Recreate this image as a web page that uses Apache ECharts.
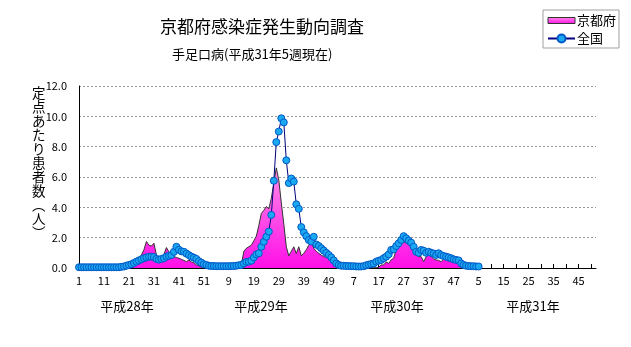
<!DOCTYPE html>
<html><head><meta charset="utf-8">
<script src="https://cdn.jsdelivr.net/npm/echarts@6/dist/echarts.min.js"></script>
<style>html,body{margin:0;padding:0;background:#fff}#c{width:631px;height:347px}</style>
</head><body><div id="c"></div>
<script>
const FONT = '"Noto Sans CJK JP", "Noto Sans", sans-serif';
const titleText = '京都府感染症発生動向調査';
const subtitleText = '手足口病(平成31年5週現在)';
const yAxisName = ['定','点','あ','た','り','患','者','数','︵','人','︶'];
const yearLabels = ['平成28年','平成29年','平成30年','平成31年'];
const weeksPerYear = 52;
const yTicks = [0, 2, 4, 6, 8, 10, 12];

const kyoto2016 = [0,0,0,0,0,0,0,0,0,0,0,0,0,0,0,0,0,0,0,
  0.05,0.1,0.15,0.25,0.4,0.53,0.86,1.2,1.75,1.5,1.45,1.63,0.86,0.55,0.75,0.9,1.35,1.07,0.8,0.75,0.7,0.64,0.57,0.5,0.42,0.53,0.4,0.35,0.2,0.15,0.05,0.05,0.02];
const kyoto2017 = [0.02,0.02,0.02,0.02,0.02,0.02,0.02,0.02,0.02,0.03,0.05,0.05,
  0.05,0.2,1.1,1.3,1.4,1.5,1.8,2.1,2.8,3.6,3.8,4.05,3.9,4.6,5.6,6.6,5.8,4.3,2.9,1.4,0.8,1.1,1.4,0.95,1.4,0.8,0.97,1.2,1.5,1.73,1.3,1.1,0.97,0.85,0.75,0.7,0.64,0.5,0.42,0.3];
const kyoto2018 = [0.2,0.1,0.05,0.02,0.02,0.02,0.02,0.02,0.02,0.02,0.02,0.02,0.02,0.02,0.02,0.02,
  0.05,0.2,0.2,0.4,0.3,0.55,0.65,1.2,1.5,1.63,1.73,1.65,1.55,1.4,1.1,0.86,0.75,0.75,0.42,0.75,0.86,0.75,0.6,0.53,0.5,0.42,0.57,0.53,0.45,0.42,0.42,0.35,0.3,0.2,0.05,0.1];
const kyoto2019 = [0.1,0.1,0.05,0.05,0.05];

const national2016 = [0.05,0.05,0.05,0.05,0.05,0.05,0.05,0.05,0.05,0.05,0.05,0.05,0.05,0.05,0.05,0.05,0.05,
  0.08,0.1,0.15,0.2,0.25,0.33,0.42,0.5,0.58,0.65,0.7,0.75,0.75,0.72,0.6,0.55,0.6,0.65,0.75,0.8,0.85,1.07,1.4,1.2,1.1,1.07,0.95,0.85,0.75,0.68,0.6,0.45,0.35,0.25,0.2];
const national2017 = [0.15,0.13,0.13,0.12,0.12,0.12,0.12,0.12,0.12,0.13,0.13,0.15,0.18,
  0.2,0.3,0.4,0.42,0.48,0.7,0.9,0.97,1.4,1.73,2.06,2.4,3.5,5.75,8.3,9.0,9.87,9.6,7.1,5.6,5.9,5.7,4.2,3.9,2.7,2.35,2.1,1.85,1.75,2.06,1.55,1.45,1.3,1.15,1.0,0.86,0.7,0.5,0.3];
const national2018 = [0.2,0.15,0.15,0.13,0.13,0.12,0.12,0.1,0.1,0.1,0.12,0.18,0.22,0.26,0.3,0.42,0.48,0.53,0.65,0.75,0.9,1.19,1.23,1.45,1.63,1.85,2.1,1.96,1.8,1.67,1.4,1.07,1.0,1.19,1.14,1.0,1.07,1.0,0.95,0.86,0.97,0.85,0.79,0.75,0.7,0.64,0.57,0.53,0.5,0.3,0.2,0.15];
const national2019 = [0.13,0.12,0.12,0.1,0.1];

const categories = [];
for (let y = 0; y < yearLabels.length; y++) {
  for (let w = 1; w <= weeksPerYear; w++) categories.push(String(w));
}
function pad(arr) {
  const out = arr.slice();
  while (out.length < categories.length) out.push(null);
  return out;
}
const kyoto = pad([].concat(kyoto2016, kyoto2017, kyoto2018, kyoto2019));
const national = pad([].concat(national2016, national2017, national2018, national2019));

const pinkFill = new echarts.graphic.LinearGradient(0, 0, 0, 1, [
  { offset: 0, color: '#ff8ce6' },
  { offset: 1, color: '#ff10e8' }
]);

const chart = echarts.init(document.getElementById('c'), null, { renderer: 'canvas' });
const yearCenters = [127, 261, 397, 533];
chart.setOption({
  animation: false,
  backgroundColor: '#fff',
  title: [
    { text: titleText, left: 155, top: 13, textStyle: { fontFamily: FONT, fontSize: 17, fontWeight: 'normal', color: '#000' } },
    { text: subtitleText, left: 167, top: 43, textStyle: { fontFamily: FONT, fontSize: 13, fontWeight: 'normal', color: '#000' } }
  ],
  legend: {
    orient: 'vertical', left: 543, top: 10,
    padding: [4, 3, 3, 4], itemGap: 5, itemWidth: 27, itemHeight: 10,
    borderColor: '#a0a0a0', borderWidth: 1,
    textStyle: { fontFamily: FONT, fontSize: 13, color: '#000', padding: [0, 0, 0, -3] },
    data: [
      { name: '京都府', icon: 'path://M0,0H27V6H0Z', itemStyle: { color: pinkFill, borderColor: '#333', borderWidth: 1 } },
      { name: '全国' }
    ]
  },
  grid: { left: 79, right: 35, top: 86, bottom: 79 },
  xAxis: {
    type: 'category', data: categories, boundaryGap: false,
    axisLine: { lineStyle: { color: '#000', width: 1 } },
    axisTick: { interval: 4, inside: true, length: 4, lineStyle: { color: '#000' } },
    axisLabel: { interval: 9, fontSize: 11, color: '#000', margin: 7, fontFamily: FONT },
    splitLine: { show: false }
  },
  yAxis: {
    type: 'value', min: yTicks[0], max: yTicks[yTicks.length - 1], interval: 2,
    axisLine: { show: true, lineStyle: { color: '#000' } },
    axisTick: { show: false },
    axisLabel: { formatter: v => v.toFixed(1), fontSize: 11, color: '#000', margin: 12, fontFamily: FONT },
    splitLine: { lineStyle: { color: '#999', type: [2, 2] } }
  },
  graphic: [
    { type: 'text', left: 32, top: 86, style: { text: yAxisName.join('\n'), fontFamily: FONT, fontSize: 13.5, lineHeight: 14, fill: '#000', align: 'left' } }
  ].concat(yearLabels.map((t, i) => ({
    type: 'text', x: yearCenters[i], y: 306,
    style: { text: t, fontFamily: FONT, fontSize: 13, fill: '#000', align: 'center', verticalAlign: 'middle' }
  }))),
  series: [
    {
      name: '京都府', type: 'line', data: kyoto, symbol: 'none', smooth: false,
      lineStyle: { color: '#333', width: 1 },
      itemStyle: { color: pinkFill },
      areaStyle: { color: pinkFill, opacity: 1 },
      z: 2
    },
    {
      name: '全国', type: 'line', data: national, symbol: 'circle', symbolSize: 7, showAllSymbol: true,
      lineStyle: { color: '#000080', width: 1 },
      itemStyle: { color: '#1aa8f0', borderColor: '#0058c8', borderWidth: 1 },
      z: 3
    }
  ]
});
</script>
</body></html>
